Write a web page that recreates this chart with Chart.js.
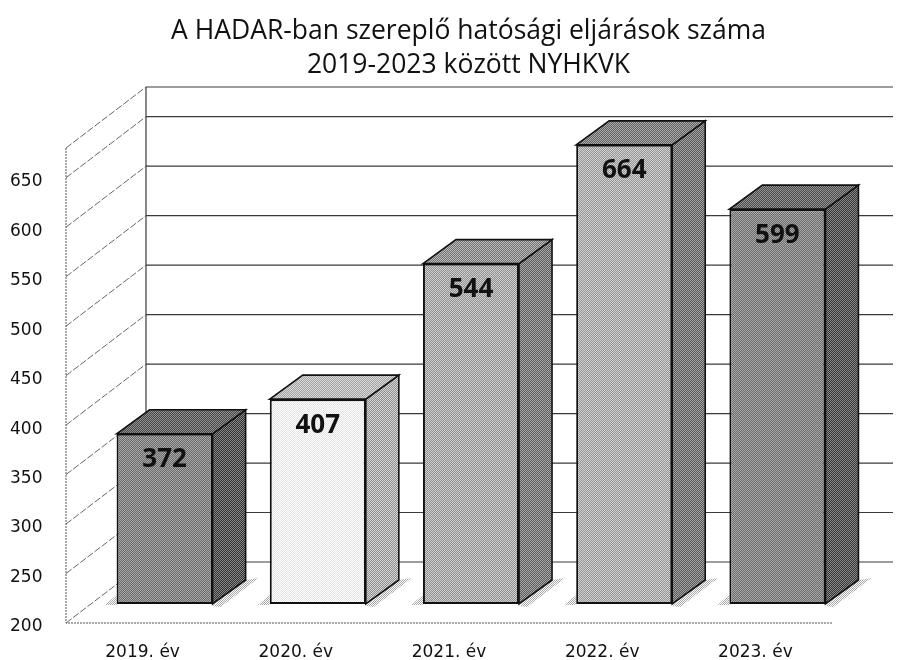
<!DOCTYPE html>
<html><head><meta charset="utf-8">
<style>html,body{margin:0;padding:0;background:#fff}canvas{display:block}</style>
<script src="https://cdn.jsdelivr.net/npm/chart.js@4"></script></head>
<body><canvas id="c" width="898" height="660"></canvas>
<script>
const categories=['2019. év','2020. év','2021. év','2022. év','2023. év'];
const values=[372,407,544,664,599];
const frontLight=['#a8a8a8','#ffffff','#cfcfcf','#d2d2d2','#a8a8a8'];
const frontDark=['#6a6a6a','#e2e2e2','#8f8f8f','#949494','#6c6c6c'];
const sideLight=['#8a8a8a','#d6d6d6','#a8a8a8','#a4a4a4','#8a8a8a'];
const sideDark=['#303030','#8e8e8e','#5c5c5c','#585858','#343434'];
const topLight=['#909090','#dcdcdc','#bcbcbc','#ababab','#959595'];
const topDark=['#484848','#a0a0a0','#707070','#606060','#4a4a4a'];
const titleLines=['A HADAR-ban szereplő hatósági eljárások száma','2019-2023 között NYHKVK'];
const yMin=200,yMax=680,yStep=50;
const wallDx=80,wallDy=-61,barDx=22,barDy=-19,depthDx=33,depthDy=-24;

function dither(a,b){
  const t=document.createElement('canvas');t.width=t.height=2;
  const g=t.getContext('2d');
  g.fillStyle=a;g.fillRect(0,0,2,2);
  g.fillStyle=b;g.fillRect(0,0,1,1);g.fillRect(1,1,1,1);
  return g.createPattern(t,'repeat');
}
function poly(ctx,pts,fill,stroke,lw){
  ctx.beginPath();pts.forEach((p,i)=>i?ctx.lineTo(p[0],p[1]):ctx.moveTo(p[0],p[1]));ctx.closePath();
  if(fill){ctx.fillStyle=fill;ctx.fill();}
  if(stroke){ctx.strokeStyle=stroke;ctx.lineWidth=lw;ctx.stroke();}
}
const scene={
  id:'scene',
  beforeDatasetsDraw(chart){
    const {ctx,chartArea:a,scales:{y}}=chart;
    ctx.save();
    ctx.beginPath();ctx.rect(0,0,chart.width-5,chart.height);ctx.clip();
    const levels=y.ticks.map(t=>y.getPixelForValue(t.value)).concat([a.top]);
    ctx.strokeStyle='#3a3a3a';ctx.lineWidth=1.2;ctx.setLineDash([]);
    levels.forEach(p=>{ctx.beginPath();ctx.moveTo(a.left+wallDx,p+wallDy);ctx.lineTo(a.right+wallDx,p+wallDy);ctx.stroke();});
    ctx.beginPath();ctx.moveTo(a.left+wallDx,a.top+wallDy);ctx.lineTo(a.left+wallDx,a.bottom+wallDy);ctx.stroke();
    ctx.strokeStyle='#666';ctx.lineWidth=1;ctx.setLineDash([7,2]);
    levels.forEach(p=>{ctx.beginPath();ctx.moveTo(a.left,p);ctx.lineTo(a.left+wallDx,p+wallDy);ctx.stroke();});
    ctx.setLineDash([2,1]);
    ctx.strokeStyle='#555';
    ctx.beginPath();ctx.moveTo(a.left,a.top);ctx.lineTo(a.left,a.bottom);ctx.lineTo(a.right,a.bottom);ctx.stroke();
    ctx.restore();
    ctx.save();ctx.translate(barDx,barDy);
    chart.getDatasetMeta(0).data.forEach((b,i)=>{
      const l=b.x-b.width/2,r=b.x+b.width/2,t=b.y,bt=b.base;
      poly(ctx,[[l-12,bt+1],[l,bt-9],[l,bt+1]],dither('#a8a8a8','#ffffff'));
      poly(ctx,[[r,bt+2],[r+depthDx,bt+depthDy],[r+depthDx+13,bt+depthDy-2],[r+8,bt+3]],dither('#a8a8a8','#ffffff'));
      poly(ctx,[[r,t],[r+depthDx,t+depthDy],[r+depthDx,bt+depthDy],[r,bt]],dither(sideLight[i],sideDark[i]),'#111',1.6);
      poly(ctx,[[l,t],[l+depthDx,t+depthDy],[r+depthDx,t+depthDy],[r,t]],dither(topLight[i],topDark[i]),'#111',1.6);
    });
  },
  afterDatasetsDraw(chart){
    const {ctx}=chart;
    ctx.fillStyle='#111';ctx.font='bold 26px "Open Sans"';ctx.textAlign='center';ctx.textBaseline='middle';
    chart.getDatasetMeta(0).data.forEach((b,i)=>ctx.fillText(String(values[i]),b.x,b.y+26));
    ctx.restore();
  }
};
new Chart(document.getElementById('c'),{
  type:'bar',
  data:{labels:categories,datasets:[{data:values,base:yMin,
    backgroundColor:values.map((v,i)=>dither(frontLight[i],frontDark[i])),
    borderColor:'#111',borderWidth:2,borderSkipped:false,
    barPercentage:0.627,categoryPercentage:1,clip:false}]},
  options:{
    responsive:false,animation:false,
    layout:{padding:{left:39,right:0,top:0,bottom:0}},
    plugins:{
      legend:{display:false},tooltip:{enabled:false},
      title:{display:true,text:titleLines,color:'#111',
        font:{family:'"Open Sans"',size:26.5,weight:'500',lineHeight:34/26.5},
        padding:{top:14,bottom:66}}
    },
    scales:{
      x:{grid:{display:false,drawTicks:false},border:{display:false},
        ticks:{color:'#111',font:{family:'"DejaVu Sans"',size:17},padding:19,maxRotation:0},
        afterFit(s){s.height=37;}},
      y:{min:yMin,max:yMax,grid:{display:false,drawTicks:false},border:{display:false},
        ticks:{stepSize:yStep,includeBounds:false,color:'#111',labelOffset:4,mirror:true,padding:-56,
          font:{family:'"DejaVu Sans"',size:17}},
        afterFit(s){s.width=27;}},
      yRight:{position:'right',display:true,grid:{display:false},border:{display:false},
        ticks:{display:false},afterFit(s){s.width=66;}}
    }
  },
  plugins:[scene]
});
</script></body></html>
